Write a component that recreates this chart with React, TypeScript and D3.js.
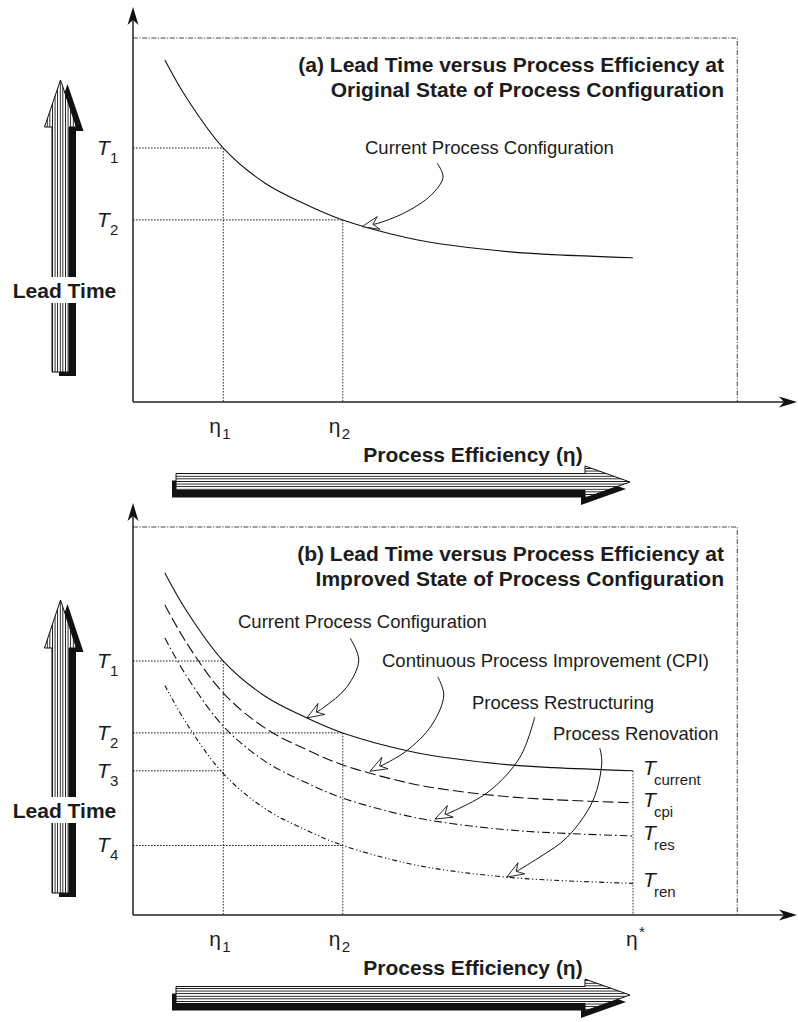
import React from 'react';
import * as d3 from 'd3';

// ---------- data ----------
const efficiency = [4.8, 8.1, 13.6, 19.9, 26.2, 31.6, 41.3, 48.2, 56.8, 63.3, 75.3];
const leadCurrent = [86.6, 76.9, 64.3, 55.4, 49.9, 46.1, 41.6, 39.6, 38.0, 37.3, 36.5];
const leadCPI = [78.5, 68.8, 56.2, 47.3, 41.8, 38.0, 33.5, 31.5, 29.9, 29.2, 28.4];
const leadRes = [70.1, 60.4, 47.8, 38.9, 33.4, 29.6, 25.1, 23.1, 21.5, 20.8, 20.0];
const leadRen = [58.1, 48.4, 35.8, 26.9, 21.4, 17.6, 13.1, 11.1, 9.5, 8.8, 8.0];

const etaNames = ['1', '2', '*'];
const etaValues = [13.6, 31.6, 75.3];
const tNames = ['1', '2', '3', '4'];
const tValues = [64.3, 46.1, 36.5, 17.6];
const endNames = ['current', 'cpi', 'res', 'ren'];

const titleA = ['(a) Lead Time versus Process Efficiency at', 'Original State of Process Configuration'];
const titleB = ['(b) Lead Time versus Process Efficiency at', 'Improved State of Process Configuration'];
const annotationNames = ['Current Process Configuration', 'Continuous Process Improvement (CPI)', 'Process Restructuring', 'Process Renovation'];

// annotation arrow paths in data coordinates (efficiency, lead time)
const annA: [number, number][] = [[45.8, 60.5], [46.7, 57.0], [45.2, 52.9], [41.7, 48.6], [37.2, 45.4], [34.5, 44.4]];
const annBCurrent: [number, number][] = [[32.7, 70.1], [34.0, 64.6], [32.2, 57.7], [28.6, 52.4], [26.2, 49.9]];
const annBCPI: [number, number][] = [[45.9, 60.3], [46.8, 55.7], [45.0, 48.1], [41.0, 41.3], [35.7, 36.4]];
const annBRes: [number, number][] = [[60.5, 50.1], [58.3, 40.0], [53.3, 30.9], [45.5, 24.3]];
const annBRen: [number, number][] = [[70.3, 42.3], [70.6, 38.7], [69.3, 29.1], [65.4, 19.7], [61.3, 14.7], [56.3, 9.6]];

// ---------- style ----------
const FONT = '"Liberation Sans", Arial, Helvetica, sans-serif';
const INK = '#1c1c1c';
const dashes = ['none', '11,4', '8,3,1.5,3', '5,2.5,1.2,2.5,1.2,2.5'];

const x = d3.scaleLinear().domain([0, 100]).range([133, 797]);

function arrowHeadAxisUp(tx: number, ty: number) {
  return `M${tx},${ty} L${tx - 5.5},${ty + 18} L${tx},${ty + 13} L${tx + 5.5},${ty + 18} Z`;
}
function arrowHeadAxisRight(tx: number, ty: number) {
  return `M${tx},${ty} L${tx - 18},${ty - 5.5} L${tx - 13},${ty} L${tx - 18},${ty + 5.5} Z`;
}

function openHead(p: [number, number], q: [number, number]) {
  const dx = q[0] - p[0], dy = q[1] - p[1];
  const len = Math.hypot(dx, dy) || 1;
  const ux = dx / len, uy = dy / len;
  const nx = -uy, ny = ux;
  const L = 17, Wd = 6.5, N = 11;
  const b1 = [q[0] - L * ux + Wd * nx, q[1] - L * uy + Wd * ny];
  const b2 = [q[0] - L * ux - Wd * nx, q[1] - L * uy - Wd * ny];
  const nc = [q[0] - N * ux, q[1] - N * uy];
  return `M${q[0]},${q[1]} L${b1[0]},${b1[1]} L${nc[0]},${nc[1]} L${b2[0]},${b2[1]} Z`;
}

function VArrow({ cx, tipY, baseY, bottomY, labelY }: { cx: number; tipY: number; baseY: number; bottomY: number; labelY: number }) {
  const bh = 8.5, hh = 16;
  const pts = [
    [cx, tipY], [cx + hh, baseY], [cx + bh, baseY], [cx + bh, bottomY],
    [cx - bh, bottomY], [cx - bh, baseY], [cx - hh, baseY],
  ];
  const d = 'M' + pts.map(p => p.join(',')).join(' L') + ' Z';
  return (
    <g>
      <path d={d} transform="translate(7,4)" fill="#111" />
      <path d={d} fill="url(#vhatch)" stroke="#111" strokeWidth={1} />
      <rect x={cx - 20} y={labelY - 13} width={46} height={26} fill="white" />
      <text x={cx + 4} y={labelY + 7.5} textAnchor="middle" fontFamily={FONT} fontWeight="bold" fontSize={21} fill={INK}>Lead Time</text>
    </g>
  );
}

function HArrow({ cy, leftX, baseX, tipX }: { cy: number; leftX: number; baseX: number; tipX: number }) {
  const bh = 8.5, hh = 16;
  const pts = [
    [tipX, cy], [baseX, cy - hh], [baseX, cy - bh], [leftX, cy - bh],
    [leftX, cy + bh], [baseX, cy + bh], [baseX, cy + hh],
  ];
  const d = 'M' + pts.map(p => p.join(',')).join(' L') + ' Z';
  return (
    <g>
      <path d={d} transform="translate(-4,7)" fill="#111" />
      <path d={d} fill="url(#hhatch)" stroke="#111" strokeWidth={1} />
    </g>
  );
}

type PanelProps = {
  axisY: number; boxTop: number; yTip: number;
  title: string[]; titleY: number[];
  improved: boolean;
};

function Panel({ axisY, boxTop, yTip, title, titleY, improved }: PanelProps) {
  const y = d3.scaleLinear().domain([0, 100]).range([axisY, axisY - 395]);
  const line = (vals: number[]) =>
    d3.line<number>().x((_, i) => x(efficiency[i])).y(d => y(d)).curve(d3.curveCatmullRom.alpha(0.5))(vals) || '';
  const annLine = (pts: [number, number][]) =>
    d3.line<[number, number]>().x(d => x(d[0])).y(d => y(d[1])).curve(d3.curveCatmullRom.alpha(0.5))(pts) || '';
  const px = (p: [number, number]): [number, number] => [x(p[0]), y(p[1])];

  const series = improved ? [leadCurrent, leadCPI, leadRes, leadRen] : [leadCurrent];
  const boxRight = x(91.0);

  const guides: [number, number][] = improved ? [[0, 0], [1, 1], [2, 0], [3, 1]] : [[0, 0], [1, 1]];
  const etaShown = improved ? [0, 1, 2] : [0, 1];
  const tShown = improved ? [0, 1, 2, 3] : [0, 1];

  const anns: { pts: [number, number][]; text: string; tx: number; ty: number }[] = improved
    ? [
        { pts: annBCurrent, text: annotationNames[0], tx: 238, ty: 628 },
        { pts: annBCPI, text: annotationNames[1], tx: 382, ty: 667 },
        { pts: annBRes, text: annotationNames[2], tx: 472, ty: 709 },
        { pts: annBRen, text: annotationNames[3], tx: 553, ty: 740 },
      ]
    : [{ pts: annA, text: annotationNames[0], tx: 365, ty: 154 }];

  const lastIdx = efficiency.length - 1;
  const dot = '1.6,1.4';

  return (
    <g>
      {/* frame box */}
      <path d={`M${x(0)},${boxTop} L${boxRight},${boxTop} L${boxRight},${axisY}`} fill="none" stroke="#444" strokeWidth={1} strokeDasharray="5,1.5,1.2,1.5" />

      {/* guide lines */}
      {guides.map(([ti, ei], k) => (
        <line key={k} x1={x(0)} x2={x(etaValues[ei])} y1={y(tValues[ti])} y2={y(tValues[ti])} stroke="#222" strokeWidth={1} strokeDasharray={dot} />
      ))}
      <line x1={x(etaValues[0])} x2={x(etaValues[0])} y1={y(tValues[0])} y2={axisY} stroke="#333" strokeWidth={1} strokeDasharray={dot} />
      <line x1={x(etaValues[1])} x2={x(etaValues[1])} y1={y(tValues[1])} y2={axisY} stroke="#333" strokeWidth={1} strokeDasharray={dot} />
      {improved && (
        <line x1={x(etaValues[2])} x2={x(etaValues[2])} y1={y(leadCurrent[lastIdx])} y2={axisY} stroke="#333" strokeWidth={1} strokeDasharray={dot} />
      )}

      {/* curves */}
      {series.map((s, i) => (
        <path key={i} d={line(s)} fill="none" stroke="#111" strokeWidth={1.1} strokeDasharray={dashes[i]} />
      ))}

      {/* axes */}
      <line x1={x(0)} x2={x(100) - 10} y1={axisY} y2={axisY} stroke="#222" strokeWidth={1.5} />
      <path d={arrowHeadAxisRight(x(100), axisY)} fill="#111" />
      <line x1={x(0)} x2={x(0)} y1={axisY} y2={yTip + 10} stroke="#222" strokeWidth={1.5} />
      <path d={arrowHeadAxisUp(x(0), yTip)} fill="#111" />

      {/* title */}
      {title.map((t, i) => (
        <text key={i} x={724} y={titleY[i]} textAnchor="end" fontFamily={FONT} fontWeight="bold" fontSize={21} fill={INK}>{t}</text>
      ))}

      {/* T labels on left */}
      {tShown.map(i => (
        <g key={i}>
          <text x={97} y={y(tValues[i]) + 7} fontFamily={FONT} fontStyle="italic" fontSize={21} fill={INK}>T</text>
          <text x={110} y={y(tValues[i]) + 15} fontFamily={FONT} fontSize={15} fill={INK}>{tNames[i]}</text>
        </g>
      ))}

      {/* eta labels */}
      {etaShown.map(i => {
        const star = etaNames[i] === '*';
        const ex = star ? x(etaValues[i]) - 7 : x(etaValues[i]) - 14;
        return (
          <g key={i}>
            <text x={ex} y={axisY + 31} fontFamily={FONT} fontSize={21} fill={INK}>η</text>
            <text x={ex + 13} y={star ? axisY + 22 : axisY + 37} fontFamily={FONT} fontSize={15} fill={INK}>{etaNames[i]}</text>
          </g>
        );
      })}

      {/* right-hand T labels */}
      {improved && series.map((s, i) => (
        <g key={i}>
          <text x={643} y={y(s[lastIdx]) + 4} fontFamily={FONT} fontStyle="italic" fontSize={21} fill={INK}>T</text>
          <text x={654} y={y(s[lastIdx]) + 14} fontFamily={FONT} fontSize={15} fill={INK}>{endNames[i]}</text>
        </g>
      ))}

      {/* annotations */}
      {anns.map((a, i) => {
        const n = a.pts.length;
        return (
          <g key={i}>
            <text x={a.tx} y={a.ty} fontFamily={FONT} fontSize={18.5} fill={INK}>{a.text}</text>
            <path d={annLine(a.pts)} fill="none" stroke="#111" strokeWidth={1} />
            <path d={openHead(px(a.pts[n - 2]), px(a.pts[n - 1]))} fill="white" stroke="#111" strokeWidth={0.9} strokeLinejoin="miter" />
          </g>
        );
      })}

      {/* x label */}
      <text x={473} y={axisY + 60} textAnchor="middle" fontFamily={FONT} fontWeight="bold" fontSize={21} fill={INK}>Process Efficiency (η)</text>
    </g>
  );
}

export default function App() {
  return (
    <svg width={798} height={1022} viewBox="0 0 798 1022" style={{ position: 'absolute', left: 0, top: 0, background: 'white' }}>
      <defs>
        <pattern id="vhatch" width={2.6} height={4} patternUnits="userSpaceOnUse">
          <rect width={2.6} height={4} fill="white" />
          <rect width={0.9} height={4} fill="#111" />
        </pattern>
        <pattern id="hhatch" width={4} height={2.6} patternUnits="userSpaceOnUse">
          <rect width={4} height={2.6} fill="white" />
          <rect width={4} height={0.9} fill="#111" />
        </pattern>
      </defs>
      <rect width={798} height={1022} fill="white" />

      <Panel axisY={402} boxTop={38} yTip={7} title={titleA} titleY={[72, 97]} improved={false} />
      <VArrow cx={60.5} tipY={80} baseY={127} bottomY={372} labelY={290} />
      <HArrow cy={482} leftX={176} baseX={585} tipX={630} />

      <Panel axisY={915} boxTop={527} yTip={503} title={titleB} titleY={[561, 586]} improved={true} />
      <VArrow cx={60.5} tipY={600} baseY={648} bottomY={893} labelY={810} />
      <HArrow cy={995} leftX={176} baseX={585} tipX={630} />
    </svg>
  );
}
